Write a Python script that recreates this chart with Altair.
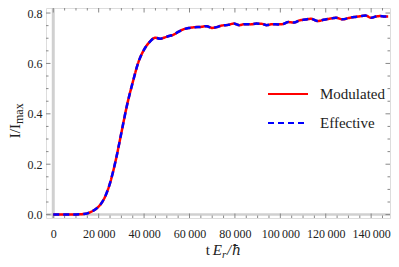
import altair as alt
import pandas as pd

# ---- data ----
t_vals = [0, 5000, 10000, 13000, 15000, 17500, 20000, 22500, 25000, 27500,
          30000, 32500, 35000, 37500, 40000, 42500, 45000, 47000, 49000, 51000,
          53000, 55000, 57500, 60000, 62500, 65000, 67500, 70000, 72000, 74000,
          77000, 79500, 82000, 84500, 87000, 89500, 92000, 94000, 96500, 99000,
          101000, 103500, 106000, 108500, 111000, 113500, 116500, 119000, 121500, 124500,
          127500, 130000, 132500, 135000, 137500, 140000, 142000, 144000, 146000, 147500]
y_modulated = [0, 0, 0.0005, 0.002, 0.005, 0.015, 0.032, 0.065, 0.125, 0.215,
               0.325, 0.435, 0.525, 0.605, 0.655, 0.686, 0.702, 0.698, 0.703, 0.709,
               0.714, 0.725, 0.736, 0.741, 0.744, 0.745, 0.748, 0.741, 0.744, 0.750,
               0.753, 0.758, 0.752, 0.756, 0.755, 0.758, 0.757, 0.752, 0.756, 0.755,
               0.756, 0.764, 0.762, 0.771, 0.774, 0.777, 0.768, 0.773, 0.777, 0.781,
               0.775, 0.780, 0.784, 0.787, 0.790, 0.781, 0.786, 0.788, 0.786, 0.786]
y_effective = list(y_modulated)
series_names = ["Modulated", "Effective"]
series_colors = ["#ff0000", "#0000ff"]

x_major = [0, 20000, 40000, 60000, 80000, 100000, 120000, 140000]
x_minor = [5000, 10000, 15000, 25000, 30000, 35000, 45000, 50000, 55000, 65000, 70000, 75000,
           85000, 90000, 95000, 105000, 110000, 115000, 125000, 130000, 135000, 145000]
y_major = [0.0, 0.2, 0.4, 0.6, 0.8]
y_minor = [0.05, 0.1, 0.15, 0.25, 0.3, 0.35, 0.45, 0.5, 0.55, 0.65, 0.7, 0.75]

X_DOMAIN = [-3200, 148300]
Y_DOMAIN = [-0.0135, 0.82]
W, H = 344, 210
FONT = "Liberation Serif"
FRAME = "#888888"

df = pd.DataFrame({
    "x": t_vals * 2,
    "y": y_modulated + y_effective,
    "series": [series_names[0]] * len(t_vals) + [series_names[1]] * len(t_vals),
})

xs = alt.Scale(domain=X_DOMAIN, nice=False, zero=False)
ys = alt.Scale(domain=Y_DOMAIN, nice=False, zero=False)

x_axis = alt.Axis(values=x_major, title=None, ticks=False, domain=False, grid=False,
                  labelFont=FONT, labelFontSize=12, labelColor="#222", labelPadding=10,
                  labelExpr="replace(format(datum.value, ','), ',', '\u2009')")
y_axis = alt.Axis(values=y_major, title=None, ticks=False, domain=False, grid=False,
                  labelFont=FONT, labelFontSize=12, labelColor="#222", labelPadding=4,
                  format=".1f")

legend = alt.Legend(orient="none", legendX=221, legendY=65, title=None,
                    symbolType="stroke", symbolSize=1600, symbolStrokeWidth=2,
                    labelFont=FONT, labelFontSize=15, labelColor="#222",
                    labelOffset=11, rowPadding=-7.5)
color = alt.Color("series:N", scale=alt.Scale(domain=series_names, range=series_colors), legend=legend)
dash = alt.StrokeDash("series:N", scale=alt.Scale(domain=series_names, range=[[1, 0], [6, 4]]), legend=legend)

# gray origin axes
vline = alt.Chart(pd.DataFrame({"x": [0]})).mark_rule(color="#d0d0d0", strokeWidth=3).encode(
    x=alt.X("x:Q", scale=xs, axis=x_axis), y=alt.value(0), y2=alt.value(H))
hline = alt.Chart(pd.DataFrame({"y": [0]})).mark_rule(color="#d0d0d0", strokeWidth=2.5).encode(
    y=alt.Y("y:Q", scale=ys, axis=y_axis), x=alt.value(0), x2=alt.value(W))

def xticks(vals, length):
    d = pd.DataFrame({"x": vals})
    b = alt.Chart(d).mark_rule(color=FRAME, strokeWidth=1).encode(
        x=alt.X("x:Q", scale=xs, axis=x_axis), y=alt.value(H), y2=alt.value(H - length))
    t = alt.Chart(d).mark_rule(color=FRAME, strokeWidth=1).encode(
        x=alt.X("x:Q", scale=xs, axis=x_axis), y=alt.value(0), y2=alt.value(length))
    return [b, t]

def yticks(vals, length):
    d = pd.DataFrame({"y": vals})
    l = alt.Chart(d).mark_rule(color=FRAME, strokeWidth=1).encode(
        y=alt.Y("y:Q", scale=ys, axis=y_axis), x=alt.value(0), x2=alt.value(length))
    r = alt.Chart(d).mark_rule(color=FRAME, strokeWidth=1).encode(
        y=alt.Y("y:Q", scale=ys, axis=y_axis), x=alt.value(W), x2=alt.value(W - length))
    return [l, r]

ticks = xticks(x_major, 4.5) + xticks(x_minor, 2.5) + yticks(y_major, 4.5) + yticks(y_minor, 2.5)

def line_layer(name):
    return alt.Chart(df[df["series"] == name]).mark_line(strokeWidth=2.5, interpolate="monotone").encode(
        x=alt.X("x:Q", scale=xs, axis=x_axis),
        y=alt.Y("y:Q", scale=ys, axis=y_axis),
        color=color, strokeDash=dash)

one = pd.DataFrame({"a": [0]})
def txt(s, x, y, size=15, style="normal", align="left", angle=0, font=FONT):
    return alt.Chart(one).mark_text(text=s, font=font, fontSize=size, fontStyle=style, color="#222",
                                    align=align, baseline="alphabetic", angle=angle).encode(
        x=alt.value(x), y=alt.value(y))

Q = 176
TB = 247
xtitle = [txt("t", Q - 12, TB, align="right"),
          txt("E", Q, TB, style="italic", align="right"),
          txt("r", Q, TB + 3, size=11, style="italic"),
          txt("/", Q + 5, TB, style="italic"),
          txt("\u0127", Q + 10, TB, size=14, style="italic", font="DejaVu Serif")]
P = 116
ytitle = [txt("I/I", -26, P, align="right", angle=270),
          txt("max", -23, P, size=12, align="left", angle=270)]

chart = alt.layer(vline, hline, *ticks, line_layer("Modulated"), line_layer("Effective"),
                  *xtitle, *ytitle).properties(
    width=W, height=H, autosize="none",
    padding={"left": 38, "top": 0, "right": 1, "bottom": 41},
).configure_view(stroke=FRAME, strokeWidth=1).configure(background="white")

chart.save("out.html", embed_options={"renderer": "svg", "actions": False})
